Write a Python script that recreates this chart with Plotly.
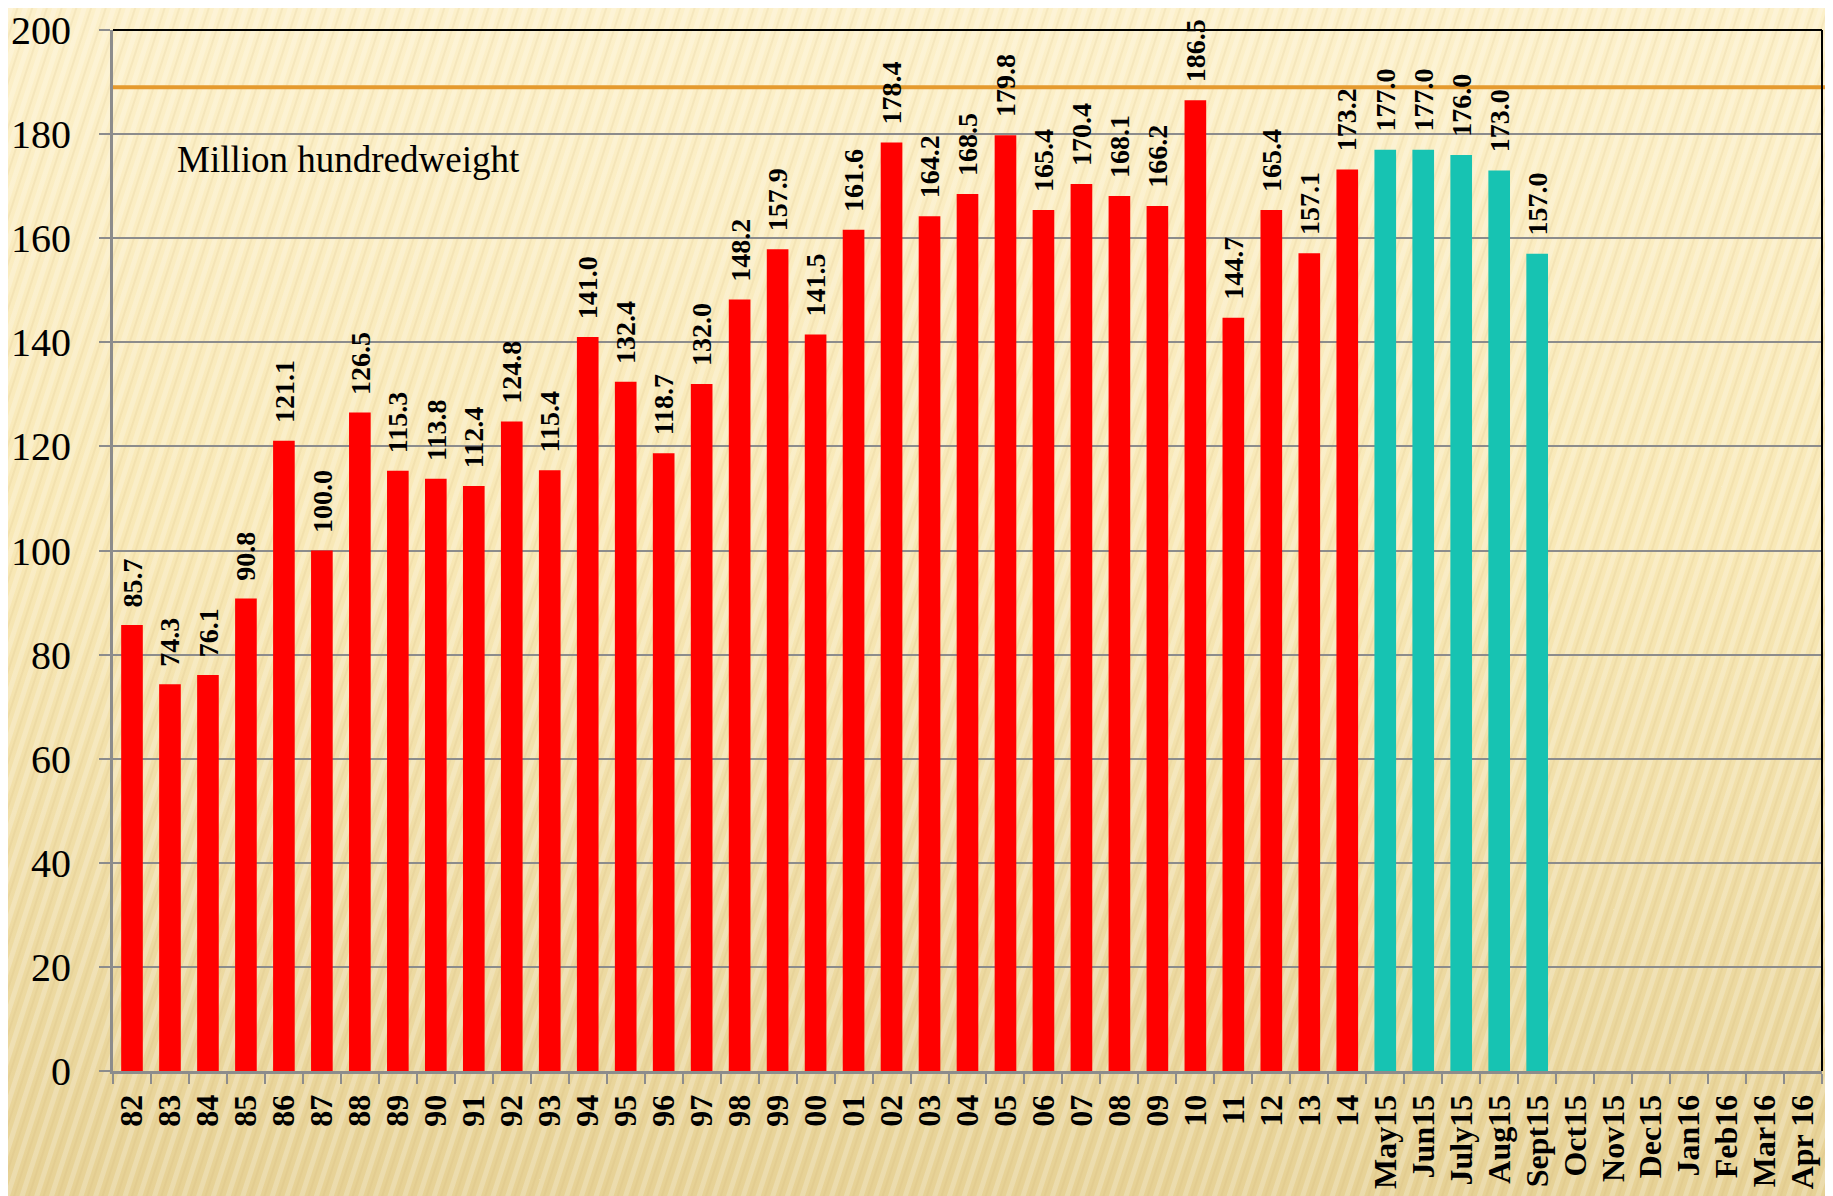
import base64
import plotly.graph_objects as go

# ---- data ----
year_labels = ["82", "83", "84", "85", "86", "87", "88", "89", "90", "91", "92", "93",
               "94", "95", "96", "97", "98", "99", "00", "01", "02", "03", "04", "05",
               "06", "07", "08", "09", "10", "11", "12", "13", "14"]
year_values = [85.7, 74.3, 76.1, 90.8, 121.1, 100.0, 126.5, 115.3, 113.8, 112.4, 124.8, 115.4,
               141.0, 132.4, 118.7, 132.0, 148.2, 157.9, 141.5, 161.6, 178.4, 164.2, 168.5, 179.8,
               165.4, 170.4, 168.1, 166.2, 186.5, 144.7, 165.4, 157.1, 173.2]
month_labels = ["May15", "Jun15", "July15", "Aug15", "Sept15"]
month_values = [177.0, 177.0, 176.0, 173.0, 157.0]
future_labels = ["Oct15", "Nov15", "Dec15", "Jan16", "Feb16", "Mar16", "Apr 16"]
reference_level = 189
unit_label = "Million hundredweight"
y_ticks = [0, 20, 40, 60, 80, 100, 120, 140, 160, 180, 200]

all_categories = year_labels + month_labels + future_labels

RED = "#FF0000"
TEAL = "#17C3B2"
GRID = "#8C8C8C"
SERIF = "Liberation Serif"

W, H = 1833, 1196
ML, MR, MT, MB = 105, 19, 22, 133
PW, PH = W - ML - MR, H - MT - MB

# background: warm cream gradient with faint diagonal stripes
svg = f"""<svg xmlns='http://www.w3.org/2000/svg' width='{W}' height='{H}'>
<defs>
<linearGradient id='g' x1='0' y1='0' x2='0' y2='1'>
<stop offset='0' stop-color='#FCF0CA'/>
<stop offset='0.45' stop-color='#F8E8B6'/>
<stop offset='1' stop-color='#E6D195'/>
</linearGradient>
<pattern id='p' width='14' height='14' patternUnits='userSpaceOnUse' patternTransform='rotate(18)'>
<rect x='0' y='0' width='5' height='14' fill='#FFFFFF' fill-opacity='0.22'/>
<rect x='8' y='0' width='2' height='14' fill='#C8A860' fill-opacity='0.12'/>
</pattern>
</defs>
<rect width='{W}' height='{H}' fill='url(#g)'/>
<rect width='{W}' height='{H}' fill='url(#p)'/>
</svg>"""
bg_uri = "data:image/svg+xml;base64," + base64.b64encode(svg.encode()).decode()

fig = go.Figure()
fig.add_trace(go.Bar(x=year_labels, y=year_values, marker=dict(color=RED, line=dict(width=0)),
                     showlegend=False, hoverinfo="x+y"))
fig.add_trace(go.Bar(x=month_labels, y=month_values, marker=dict(color=TEAL, line=dict(width=0)),
                     showlegend=False, hoverinfo="x+y"))

annotations = []
for cat, val in list(zip(year_labels, year_values)) + list(zip(month_labels, month_values)):
    annotations.append(dict(x=all_categories.index(cat), y=val, xref="x", yref="y",
                            text=f"{val:.1f}",
                            textangle=-90, showarrow=False, yanchor="bottom", xanchor="center",
                            yshift=16, font=dict(family=SERIF, size=28, color="black",
                                                 weight="bold")))
annotations.append(dict(x=0.036, y=0.876, xref="paper", yref="paper", text=unit_label,
                        showarrow=False, xanchor="left", yanchor="middle",
                        font=dict(family=SERIF, size=37, color="black")))

fig.update_layout(
    width=W, height=H,
    margin=dict(l=ML, r=MR, t=MT, b=MB, pad=0, autoexpand=False),
    paper_bgcolor="#F6E6B2",
    plot_bgcolor="rgba(0,0,0,0)",
    barmode="overlay",
    bargap=0.43,
    annotations=annotations,
    images=[dict(source=bg_uri, xref="paper", yref="paper", x=-ML / PW, y=1 + MT / PH,
                 sizex=W / PW, sizey=H / PH, xanchor="left", yanchor="top",
                 sizing="stretch", layer="below")],
    shapes=[
        dict(type="line", xref="paper", yref="y", x0=0, x1=1.02, y0=reference_level,
             y1=reference_level, line=dict(color="#E59A2E", width=4), layer="above"),
        dict(type="line", xref="paper", yref="paper", x0=0, x1=1, y0=1, y1=1,
             line=dict(color="black", width=2)),
        dict(type="line", xref="paper", yref="paper", x0=1, x1=1, y0=0, y1=1,
             line=dict(color="black", width=2)),
    ],
)

fig.update_xaxes(
    type="category", categoryorder="array", categoryarray=all_categories,
    range=[-0.5, len(all_categories) - 0.5], automargin=False,
    tickmode="array", tickvals=all_categories, ticktext=all_categories,
    tickangle=-90, tickson="boundaries", ticks="outside", ticklen=10, tickwidth=2,
    tickcolor=GRID, showline=True, linecolor=GRID, linewidth=3, showgrid=False,
    ticklabelstandoff=8, ticklabeloverflow="allow",
    tickfont=dict(family=SERIF, size=32, color="black", weight="bold"),
)
fig.update_yaxes(
    range=[0, 200], tickmode="array", tickvals=y_ticks, automargin=False,
    ticks="outside", ticklen=11, tickwidth=2, tickcolor=GRID,
    showline=True, linecolor=GRID, linewidth=3,
    showgrid=True, gridcolor=GRID, gridwidth=2, zeroline=False,
    ticklabelstandoff=20, ticklabeloverflow="allow",
    tickfont=dict(family=SERIF, size=40, color="black"),
)

fig.write_html("out.html")
